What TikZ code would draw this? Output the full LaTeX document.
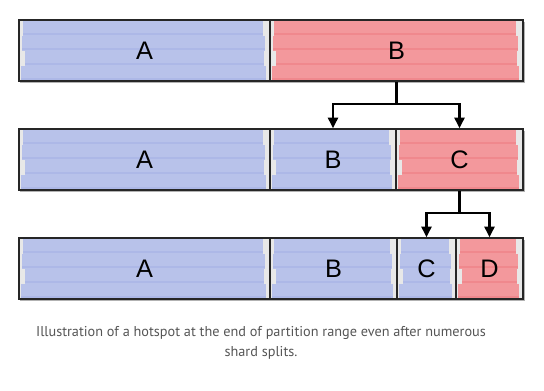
\documentclass[tikz,border=0pt]{standalone}
\usepackage{fontspec}
\setmainfont{PT Sans}
\newfontfamily\shardfont{Liberation Sans}
\usepackage{tikz}
\usetikzlibrary{arrows.meta, positioning, calc, fit}
\definecolor{hotred}{RGB}{243,152,156}
\definecolor{hotreddark}{RGB}{240,136,141}
\definecolor{coolblue}{RGB}{184,194,234}
\definecolor{coolbluedark}{RGB}{173,184,231}
\definecolor{cellgray}{RGB}{232,232,232}
\definecolor{captiongray}{RGB}{85,85,85}

% stripes of one shard: left, right, top, colour
\newcommand{\shardfill}[4]{%
  \fill[cellgray] (#1,#3) rectangle (#2,#3+61);
  \foreach \i/\l/\r in {0/4/7, 1/3/5, 2/6/6, 3/2/4} {
    \fill[#4] ({#1+\l},{#3+1+\i*15}) rectangle ({#2-\r},{#3+1+\i*15+15});
    \fill[#4dark] ({#1+\l},{#3+1+\i*15+12}) rectangle ({#2-\r},{#3+1+\i*15+14});
  }
}

\begin{document}
\begin{tikzpicture}[x=0.75pt, y=-0.75pt,
    shard/.style={draw=black!85, line width=1.1pt, inner sep=0pt,
      font=\shardfont\fontsize{19}{19}\selectfont},
    split/.style={line width=1.8pt, -{Triangle[length=8pt, width=7.5pt]}},
    caption/.style={align=center, text=captiongray,
      font=\fontsize{10.7}{15}\selectfont}]
    \useasboundingbox (0,0) rectangle (544,391);

    % Shadows
    \foreach \y in {20, 129, 238} {
        \fill[black!30] (20,\y+2) rectangle (525,\y+63);
    }

    % Row 1
    \shardfill{19}{270}{20}{coolblue}
    \shardfill{270}{523}{20}{hotred}
    \node[shard, fit={(19,20) (270,81)}] (a1) {};
    \node[shard, fit={(270,20) (523,81)}] (b1) {};

    % Row 2
    \shardfill{19}{270}{129}{coolblue}
    \shardfill{270}{396}{129}{coolblue}
    \shardfill{396}{523}{129}{hotred}
    \node[shard, fit={(19,129) (270,190)}] (a2) {};
    \node[shard, fit={(270,129) (396,190)}] (b2) {};
    \node[shard, fit={(396,129) (523,190)}] (c2) {};

    % Row 3
    \shardfill{19}{270}{238}{coolblue}
    \shardfill{270}{397}{238}{coolblue}
    \shardfill{397}{456}{238}{coolblue}
    \shardfill{456}{523}{238}{hotred}
    \node[shard, fit={(19,238) (270,299)}] (a3) {};
    \node[shard, fit={(270,238) (397,299)}] (b3) {};
    \node[shard, fit={(397,238) (456,299)}] (c3) {};
    \node[shard, fit={(456,238) (523,299)}] (d3) {};

    % Labels
    \foreach \n/\t in {a1/A, b1/B, a2/A, b2/B, c2/C, a3/A, b3/B, c3/C, d3/D} {
        \node[font=\shardfont\fontsize{19}{19}\selectfont] at (\n.center) {\t};
    }

    % Splits
    \draw[line width=1.8pt] (b1.south) -- ++(0,22) coordinate (s1);
    \draw[split] (s1) -| (b2.north);
    \draw[split] (s1) -| (c2.north);
    \draw[line width=1.8pt] (c2.south) -- ++(0,22) coordinate (s2);
    \draw[split] (s2) -| (c3.north);
    \draw[split] (s2) -| (d3.north);

    % Caption
    \node[caption] (cap) at (261,343)
        {Illustration of a hotspot at the end of partition range even after numerous\\shard splits.};
\end{tikzpicture}
\end{document}
